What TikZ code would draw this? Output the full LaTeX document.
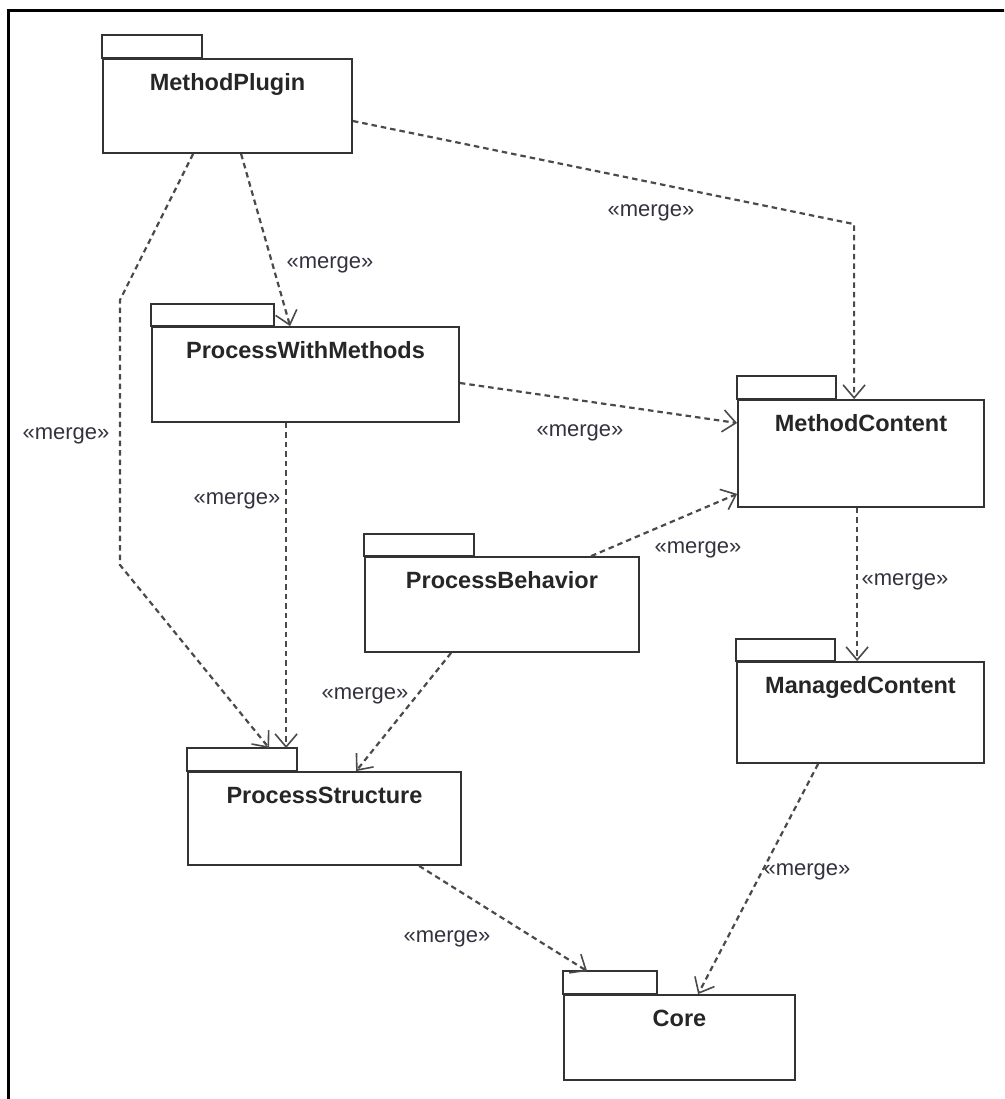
\documentclass[tikz,border=0pt]{standalone}
\usepackage{fontspec}
\setmainfont{Liberation Sans}
\usetikzlibrary{arrows.meta,calc}

\definecolor{boxline}{HTML}{333333}
\definecolor{dashline}{HTML}{4A4A4A}
\definecolor{labeltext}{HTML}{35323F}

\tikzset{
  pkgbody/.style={draw=boxline, line width=1.8pt, fill=white, inner sep=0pt},
  pkgtab/.style={draw=boxline, line width=1.8pt, fill=white},
  pkgname/.style={anchor=base, inner sep=0pt, text=black!85,
    font=\fontsize{23.5}{26}\selectfont\bfseries},
  mergeline/.style={draw=dashline, line width=2.2pt, dash pattern=on 5.5pt off 4pt,
    -{Straight Barb[length=13pt, width=22pt, line width=1.6pt]}},
  mergelabel/.style={anchor=base, inner sep=0pt, text=labeltext,
    font=\fontsize{22}{24}\selectfont}
}

% a UML package: body node plus its tab and its name
\newcommand{\umlpkg}[7]{% name, centre, width, height, tab width, tab height, title
  \node[pkgbody, minimum width=#3pt, minimum height=#4pt] (#1) at #2 {};
  \draw[pkgtab] (#1.north west) rectangle ++(#5,-#6);
  \node[pkgname] (#1-title) at ($(#1.north)+(0,32)$) {#7};
}

\begin{document}
\begin{tikzpicture}[x=1pt,y=-1pt]
  \useasboundingbox (0,0) rectangle (1004,1099);
  \fill[white] (0,0) rectangle (1004,1099);
  \clip (0,0) rectangle (1004,1099);

  % frame (only the left and top sides fall inside the page)
  \draw[line width=3pt, black] (8.5,1120) -- (8.5,10.5) -- (1030,10.5);

  % packages
  \umlpkg{mp}{(227.5,106)}{249}{94}{100}{23}{MethodPlugin}
  \umlpkg{pwm}{(305.5,374.5)}{307}{95}{123}{22}{ProcessWithMethods}
  \umlpkg{mc}{(861,453.5)}{246}{107}{99}{23}{MethodContent}
  \umlpkg{pb}{(502,604.5)}{274}{95}{110}{22}{ProcessBehavior}
  \umlpkg{mgc}{(860.5,712.5)}{247}{101}{99}{22}{ManagedContent}
  \umlpkg{ps}{(324.5,818.5)}{273}{93}{110}{23}{ProcessStructure}
  \umlpkg{core}{(679.5,1037.5)}{231}{85}{94}{23}{Core}

  % bend points
  \coordinate (mpps1) at (120,300);
  \coordinate (mpps2) at (120,565);
  \coordinate (mpmc) at ($(mc.north west)+(117,-175)$);

  % merge dependencies
  \draw[mergeline] ($(mp.south west)+(139,0)$) -- ($(pwm.north west)+(139,0)$);
  \draw[mergeline] ($(mp.south west)+(91,0)$) -- (mpps1) -- (mpps2)
    -- ($(ps.north west)+(82,-23)$);
  \draw[mergeline] ($(mp.east)+(0,15)$) -- (mpmc) -- ($(mc.north west)+(117,0)$);
  \draw[mergeline] ($(pwm.east)+(0,8.5)$) -- ($(mc.west)+(0,-30.5)$);
  \draw[mergeline] ($(pwm.south west)+(135,0)$) -- ($(ps.north west)+(99,-23)$);
  \draw[mergeline] ($(pb.north west)+(227,0)$) -- ($(mc.south west)+(0,-14)$);
  \draw[mergeline] ($(pb.south west)+(87,0)$) -- ($(ps.north west)+(169,0)$);
  \draw[mergeline] ($(mc.south west)+(120,0)$) -- ($(mgc.north west)+(121,0)$);
  \draw[mergeline] ($(ps.south west)+(232,0)$) -- ($(core.north west)+(24,-23)$);
  \draw[mergeline] ($(mgc.south west)+(82,0)$) -- ($(core.north west)+(135,0)$);

  % stereotype labels
  \node[mergelabel] (l1) at (330,268) {«merge»};
  \node[mergelabel] (l2) at (66,439) {«merge»};
  \node[mergelabel] (l3) at (651,217) {«merge»};
  \node[mergelabel] (l4) at (580,436) {«merge»};
  \node[mergelabel] (l5) at (237,504) {«merge»};
  \node[mergelabel] (l6) at (698,553) {«merge»};
  \node[mergelabel] (l7) at (365,699) {«merge»};
  \node[mergelabel] (l8) at (905,585) {«merge»};
  \node[mergelabel] (l9) at (447,942) {«merge»};
  \node[mergelabel] (l10) at (807,875) {«merge»};
\end{tikzpicture}
\end{document}
